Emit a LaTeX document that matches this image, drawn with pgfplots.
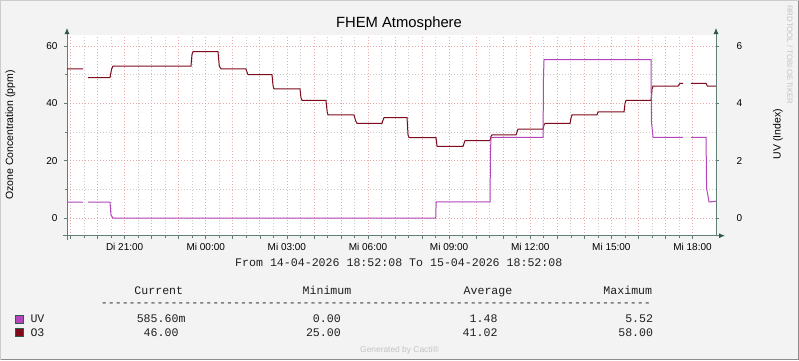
\documentclass[border=0pt]{standalone}
\usepackage{pgfplots}
\pgfplotsset{compat=1.18}
\usetikzlibrary{arrows.meta}
\usepackage{fontspec}
\setmainfont{Liberation Sans}
\newfontfamily\monofont{Liberation Mono}
\definecolor{bg}{HTML}{F3F3F3}
\definecolor{uvc}{HTML}{B346BA}
\definecolor{o3c}{HTML}{7E0A1C}
\definecolor{gridred}{HTML}{E8A8A8}
\definecolor{gridgrey}{HTML}{CCCCCC}
\definecolor{axc}{HTML}{5F7F75}
\definecolor{arrc}{HTML}{2F5A4A}
\definecolor{faint}{HTML}{C4C4C4}

\pgfplotstableread{
h v
18.869 52
19.461 52
19.55 nan
19.646 49
20.459 49
20.52 52
20.570 53
23.455 53
23.49 57
23.529 58
24.453 58
24.50 53
24.564 52
25.489 52
25.52 51
25.563 50
26.450 50
26.49 46
26.524 45
27.486 45
27.52 42
27.560 41
28.447 41
28.49 37
28.521 36
29.483 36
29.54 34
29.594 33
30.518 33
30.55 34
30.592 35
31.443 35
31.48 29
31.517 28
32.515 28
32.552 25
33.514 25
33.55 26
33.588 27
34.512 27
34.55 28.5
34.586 29
35.474 29
35.51 30
35.548 31
36.473 31
36.51 32.5
36.546 33
37.471 33
37.51 35
37.545 36
38.470 36
38.506 37
38.543 37
39.468 37
39.505 40
39.542 41
40.467 41
40.504 45
40.541 46
41.465 46
41.50 46.5
41.540 47
41.650 47
41.80 nan
41.946 47
42.501 47
42.55 46
42.612 46
42.869 46
}\othree

\pgfplotstableread{
h v
18.869 0.55
19.461 0.55
19.55 nan
19.646 0.55
20.459 0.55
20.496 0.1
20.570 0
32.504 0
32.52 0.56
34.512 0.56
34.53 2.37
34.55 2.81
36.473 2.81
36.49 4.94
36.509 5.52
40.467 5.52
40.48 3.38
40.541 2.81
41.650 2.81
41.80 nan
41.946 2.81
42.501 2.81
42.52 1.04
42.612 0.56
42.869 0.586
}\uv

\begin{document}
\begin{tikzpicture}[x=1pt,y=1pt]
\path[use as bounding box] (0,0) rectangle (799,360);
\fill[bg] (0,0) rectangle (799,360);
\draw[line width=1pt, color=black!20] (0.5,0.5) -- (0.5,359.5) -- (798.5,359.5);
\draw[line width=1pt, color=black!45] (0.5,0.5) -- (798.5,0.5) -- (798.5,359.5);

\begin{axis}[
  at={(67pt,124.3pt)}, anchor=south west,
  scale only axis, width=649pt, height=200.7pt,
  xmin=18.869, xmax=42.869, ymin=-6.17, ymax=63.83,
  axis background/.style={fill=white},
  axis x line=bottom, axis y line=left,
  x axis line style={draw=axc, line width=0.8pt, -{Latex[length=6pt,width=5pt,color=arrc]}, shorten >=-9pt, shorten <=-4pt},
  y axis line style={draw=axc, line width=0.8pt, -{Latex[length=6pt,width=5pt,color=arrc]}, shorten >=-7pt, shorten <=-4pt},
  tick align=outside, major tick length=3pt, minor tick length=2pt,
  tick style={color=axc, line width=0.6pt},
  xtick={19,...,42},
  xticklabels={,,Di 21:00,,,Mi 00:00,,,Mi 03:00,,,Mi 06:00,,,Mi 09:00,,,Mi 12:00,,,Mi 15:00,,,Mi 18:00},
  minor x tick num=1,
  ytick={0,20,40,60}, minor y tick num=1,
  grid=both,
  major grid style={color=gridred, line width=0.7pt, dash pattern=on 1pt off 2pt},
  minor grid style={color=gridgrey, line width=0.7pt, dash pattern=on 1pt off 2pt},
  /pgf/number format/assume math mode=true,
  tick label style={font=\fontsize{10}{11}\selectfont, color=black},
  xticklabel style={yshift=-1pt},
  yticklabel style={xshift=-3pt},
  unbounded coords=jump,
]
\addplot[o3c, line width=1pt, no marks] table[x=h, y=v] {\othree};
\end{axis}

\begin{axis}[
  at={(67pt,124.3pt)}, anchor=south west,
  scale only axis, width=649pt, height=200.7pt,
  xmin=18.869, xmax=42.869, ymin=-0.617, ymax=6.383,
  hide x axis, axis y line*=right,
  y axis line style={draw=axc, line width=0.8pt, -{Latex[length=6pt,width=5pt,color=arrc]}, shorten >=-7pt},
  tick align=outside, major tick length=3pt,
  tick style={color=axc, line width=0.6pt},
  ytick={0,2,4,6},
  /pgf/number format/assume math mode=true,
  tick label style={font=\fontsize{10}{11}\selectfont, color=black},
  yticklabel style={xshift=14pt},
  unbounded coords=jump,
]
\addplot[uvc, line width=1pt, no marks] table[x=h, y=v] {\uv};
\end{axis}

% titles and labels
\node[anchor=base, font=\fontsize{14.8}{17}\selectfont] at (399,332.7) {FHEM Atmosphere};
\node[rotate=90, font=\fontsize{10.5}{12}\selectfont] at (10.3,225) {Ozone Concentration (ppm)};
\node[rotate=90, font=\fontsize{10.5}{12}\selectfont] at (778,226) {UV (Index)};
\node[rotate=-90, anchor=west, font=\fontsize{7.8}{9}\selectfont, color=faint, inner sep=0pt] at (790,355) {RRDTOOL / TOBI OETIKER};

% legend block
\begin{scope}[every node/.style={font=\monofont\fontsize{11.6}{13}\selectfont, inner sep=0pt, text=black!88}]
\node[anchor=base west] at (235,93.4) {From 14-04-2026 18:52:08 To 15-04-2026 18:52:08};
\node[anchor=base] at (158.8,65.7) {Current};
\node[anchor=base] at (327,65.7) {Minimum};
\node[anchor=base] at (488,65.7) {Average};
\node[anchor=base] at (627.8,65.7) {Maximum};
\node[anchor=base west] at (100.7,53.6) {-------------------------------------------------------------------------------};
\node[anchor=base west] at (30.3,37.7) {UV};
\node[anchor=base east] at (185.7,37.7) {585.60m};
\node[anchor=base east] at (341,37.7) {0.00};
\node[anchor=base east] at (497.7,37.7) {1.48};
\node[anchor=base east] at (653.3,37.7) {5.52};
\node[anchor=base west] at (30.3,24) {O3};
\node[anchor=base east] at (178.7,24) {46.00};
\node[anchor=base east] at (341,24) {25.00};
\node[anchor=base east] at (497.7,24) {41.02};
\node[anchor=base east] at (653.3,24) {58.00};
\end{scope}
\filldraw[fill=uvc, draw=arrc, line width=0.8pt] (15.3,37) rectangle (23.3,45);
\filldraw[fill=o3c, draw=arrc, line width=0.8pt] (15.3,23.3) rectangle (23.3,31.3);
\node[anchor=base, font=\fontsize{8.4}{10}\selectfont, color=faint] at (399.5,8) {Generated by Cacti\textregistered};
\end{tikzpicture}
\end{document}
